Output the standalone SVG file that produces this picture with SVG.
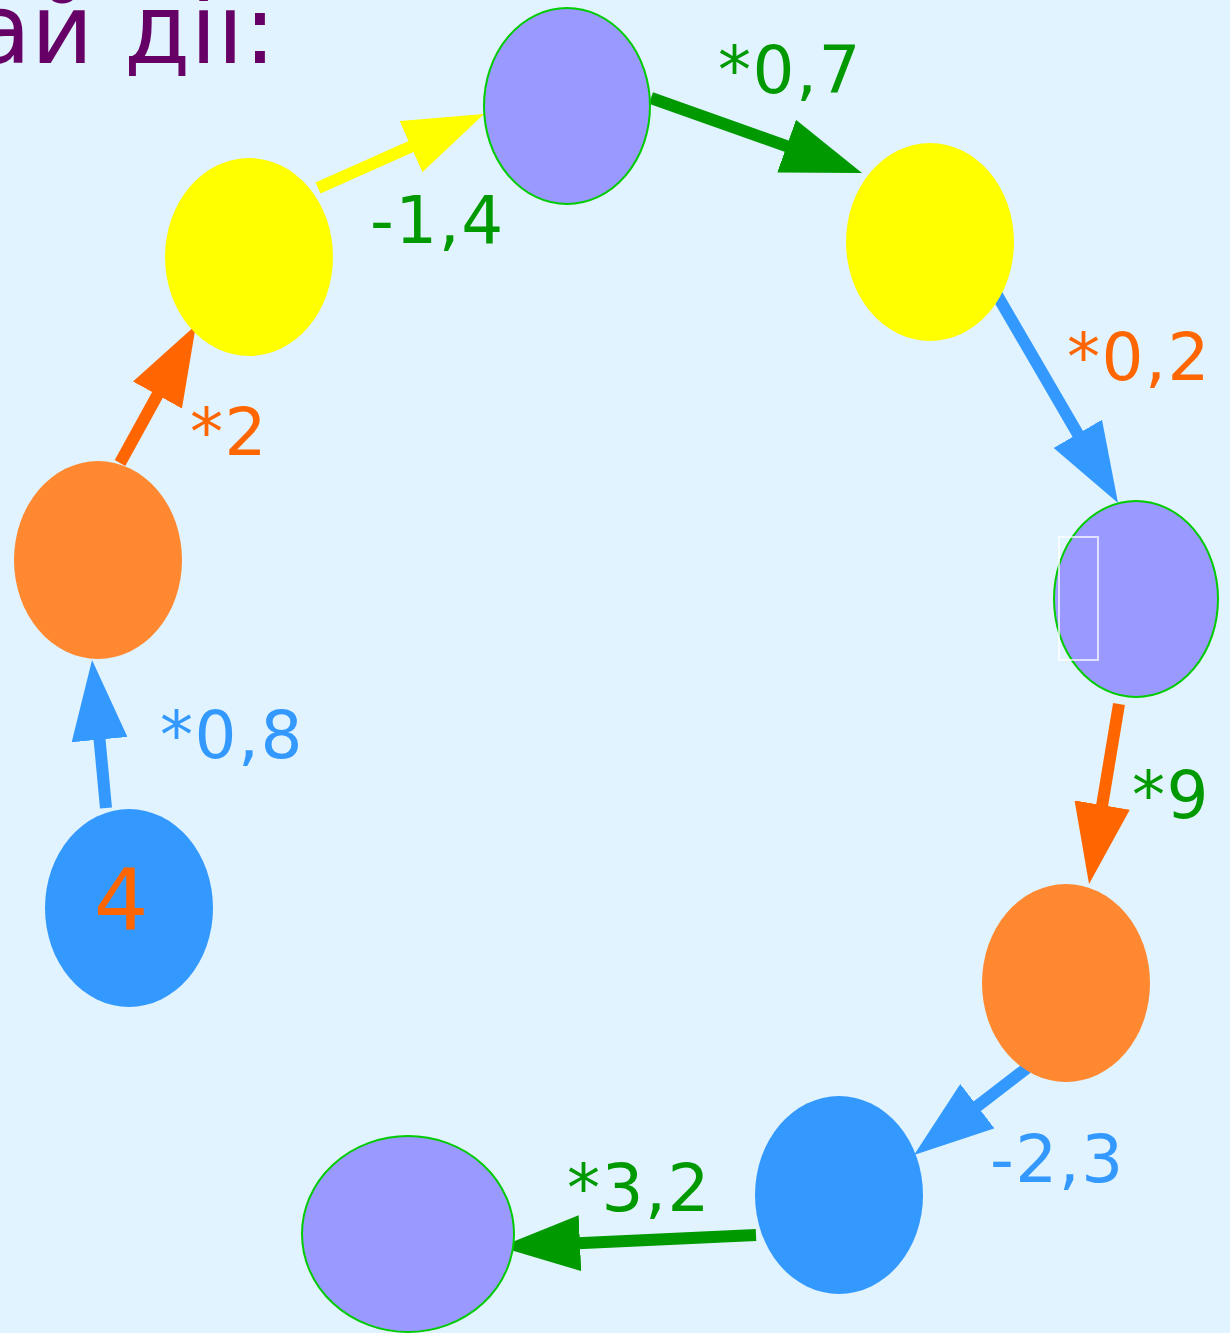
<svg xmlns="http://www.w3.org/2000/svg" width="1230" height="1333" viewBox="0 0 1230 1333">
<defs>
<style>
.lbl{font-family:"DejaVu Sans","Verdana",sans-serif;font-size:66px;letter-spacing:1.5px}
.g{fill:#009900}.o{fill:#FF6600}.b{fill:#3399FF}
.pur{fill:#9999FF;stroke:#00CC00;stroke-width:2}
.yel{fill:#FFFF00}.org{fill:#FF8830}.blu{fill:#3399FF}
.c{fill:none;stroke-width:12}
</style>
<marker id="mB" viewBox="0 0 80 56" refX="40" refY="28" markerWidth="80" markerHeight="56" markerUnits="userSpaceOnUse" orient="auto"><path d="M0,0 L80,28 L0,56 z" fill="#3399FF"/></marker>
<marker id="mO" viewBox="0 0 80 56" refX="40" refY="28" markerWidth="80" markerHeight="56" markerUnits="userSpaceOnUse" orient="auto"><path d="M0,0 L80,28 L0,56 z" fill="#FF6600"/></marker>
<marker id="mY" viewBox="0 0 80 56" refX="40" refY="28" markerWidth="80" markerHeight="56" markerUnits="userSpaceOnUse" orient="auto"><path d="M0,0 L80,28 L0,56 z" fill="#FFFF00"/></marker>
<marker id="mG" viewBox="0 0 80 56" refX="40" refY="28" markerWidth="80" markerHeight="56" markerUnits="userSpaceOnUse" orient="auto"><path d="M0,0 L80,28 L0,56 z" fill="#009900"/></marker>
</defs>
<rect width="1230" height="1333" fill="#E0F3FE"/>
<text x="276" y="63" text-anchor="end" font-family="DejaVu Sans, Verdana, sans-serif" font-size="96" fill="#660066">ай дії:</text>
<g id="connectors">
<line class="c" x1="106" y1="808" x2="95.8" y2="699.8" stroke="#3399FF" marker-end="url(#mB)"/>
<line class="c" x1="120" y1="463" x2="176.7" y2="360" stroke="#FF6600" marker-end="url(#mO)"/>
<line class="c" x1="318" y1="188" x2="447.5" y2="130.3" stroke="#FFFF00" marker-end="url(#mY)"/>
<line class="c" x1="651" y1="98" x2="824.3" y2="159.6" stroke="#009900" marker-end="url(#mG)"/>
<line class="c" x1="997" y1="295" x2="1097.9" y2="468.4" stroke="#3399FF" marker-end="url(#mB)"/>
<line class="c" x1="1119" y1="704" x2="1095.6" y2="844.5" stroke="#FF6600" marker-end="url(#mO)"/>
<line class="c" x1="1027" y1="1068" x2="945.7" y2="1130.6" stroke="#3399FF" marker-end="url(#mB)"/>
<line class="c" x1="756" y1="1235" x2="540" y2="1245.1" stroke="#009900" marker-end="url(#mG)"/>
</g>
<g id="n1"><ellipse class="blu" cx="129" cy="908" rx="84" ry="99"/><text x="121" y="930" text-anchor="middle" font-family="DejaVu Sans, Verdana, sans-serif" font-size="86" fill="#FF6600">4</text></g>
<g id="n2"><ellipse class="org" cx="98" cy="560" rx="84" ry="99"/></g>
<g id="n3"><ellipse class="yel" cx="249" cy="257" rx="84" ry="99"/></g>
<g id="n4"><ellipse class="pur" cx="567" cy="106" rx="83" ry="98"/></g>
<g id="n5"><ellipse class="yel" cx="930" cy="242" rx="84" ry="99"/></g>
<g id="n6"><ellipse class="pur" cx="1136" cy="599" rx="82" ry="98"/><rect x="1059" y="537" width="39" height="123" fill="none" stroke="#FFFFFF" stroke-opacity="0.7" stroke-width="2"/></g>
<g id="n7"><ellipse class="org" cx="1066" cy="983" rx="84" ry="99"/></g>
<g id="n8"><ellipse class="blu" cx="839" cy="1195" rx="84" ry="99"/></g>
<g id="n9"><ellipse class="pur" cx="408" cy="1234" rx="106" ry="98"/></g>
<g id="labels">
<text class="lbl b" x="160" y="758">*0,8</text>
<text class="lbl o" x="190" y="455">*2</text>
<text class="lbl g" x="370" y="243">-1,4</text>
<text class="lbl g" x="718" y="93">*0,7</text>
<text class="lbl o" x="1067" y="380">*0,2</text>
<text class="lbl g" x="1132" y="818">*9</text>
<text class="lbl b" x="990" y="1182">-2,3</text>
<text class="lbl g" x="567" y="1211">*3,2</text>
</g>
</svg>
